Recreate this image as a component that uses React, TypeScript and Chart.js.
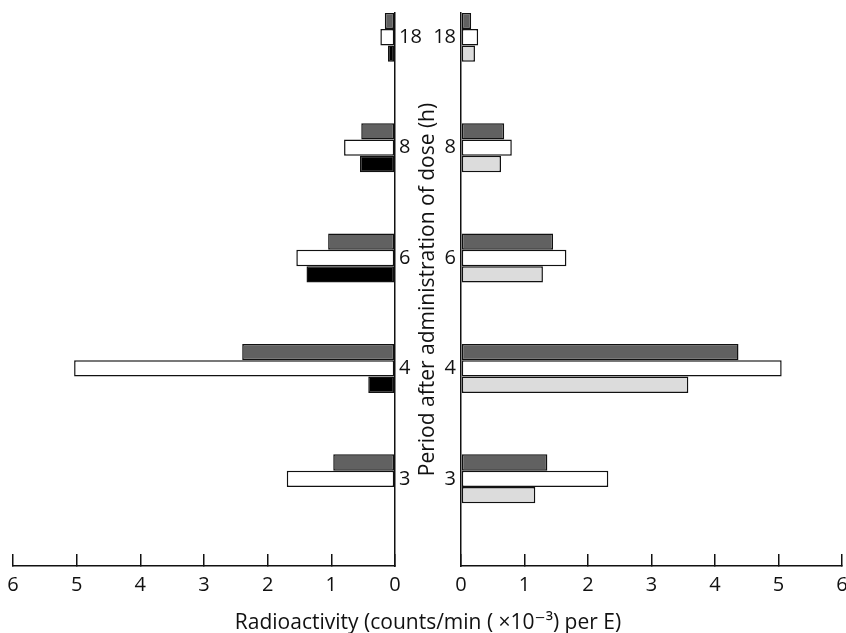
import React, { useEffect, useRef } from 'react';
import { Chart, registerables } from 'chart.js';

Chart.register(...registerables);

// ---- data ----
const periods = ['18', '8', '6', '4', '3'];
const xTickValues = [0, 1, 2, 3, 4, 5, 6];
// left panel
const leftDark = [0.16, 0.53, 1.05, 2.4, 0.97];
const leftWhite = [0.23, 0.8, 1.55, 5.04, 1.7];
const leftBlack: (number | null)[] = [0.11, 0.55, 1.39, 0.42, null];
// right panel
const rightDark = [0.16, 0.68, 1.45, 4.37, 1.36];
const rightWhite = [0.27, 0.8, 1.66, 5.05, 2.32];
const rightLight = [0.22, 0.63, 1.29, 3.58, 1.17];

const yTitle = 'Period after administration of dose (h)';
const xTitle = 'Radioactivity (counts/min ( \u00d710\u207b\u00b3) per E)';

const FONT = "'Open Sans', 'DejaVu Sans', sans-serif";
const INK = '#111111';
const DARK = '#616161';
const LIGHT = '#dcdcdc';

const W = 846;
const H = 633;
const LEFT_W = 440;
const RIGHT_X = 400;
const RIGHT_W = W - RIGHT_X;

const toPts = (arr: (number | null)[]) => arr.map((v, i) => ({ x: v, y: i }));

function dataset(label: string, values: (number | null)[], color: string) {
  return {
    label,
    data: toPts(values),
    backgroundColor: color,
    borderColor: INK,
    borderWidth: 1.5,
    borderSkipped: false,
    categoryPercentage: 0.444,
    barPercentage: 1,
  };
}

function buildConfig(side: 'left' | 'right'): any {
  const isLeft = side === 'left';
  const datasets = isLeft
    ? [dataset('A', leftDark, DARK), dataset('B', leftWhite, '#ffffff'), dataset('C', leftBlack, '#000000')]
    : [dataset('A', rightDark, DARK), dataset('B', rightWhite, '#ffffff'), dataset('C', rightLight, LIGHT)];
  return {
    type: 'bar',
    data: { datasets },
    options: {
      indexAxis: 'y',
      animation: false,
      responsive: false,
      maintainAspectRatio: false,
      layout: {
        padding: isLeft ? { left: 13, top: 13, right: 0, bottom: 0 } : { left: 0, top: 13, right: 4, bottom: 0 },
      },
      plugins: { legend: { display: false }, tooltip: { enabled: false }, title: { display: false } },
      scales: {
        x: {
          type: 'linear',
          min: 0,
          max: 6,
          reverse: isLeft,
          offset: false,
          afterBuildTicks: (s: any) => {
            s.ticks = xTickValues.map((v) => ({ value: v }));
          },
          ticks: { padding: 19, color: INK, font: { family: FONT, size: 20 } },
          grid: {
            display: true,
            drawOnChartArea: false,
            drawTicks: true,
            tickLength: -12,
            color: INK,
            lineWidth: 1.5,
          },
          border: { display: true, color: INK, width: 1.5 },
          afterFit: (s: any) => {
            s.height = 67;
            s.paddingLeft = 0;
            s.paddingRight = 0;
          },
        },
        y: {
          type: 'linear',
          position: isLeft ? 'right' : 'left',
          min: -0.22,
          max: 4.79,
          reverse: true,
          offset: false,
          afterBuildTicks: (s: any) => {
            s.ticks = periods.map((_, i) => ({ value: i }));
          },
          ticks: {
            padding: isLeft ? 4 : 5,
            color: INK,
            font: { family: FONT, size: 20 },
            callback: (v: any) => periods[v] ?? '',
          },
          grid: { display: false, drawTicks: false, offset: false },
          border: { display: true, color: INK, width: 1.5 },
          title: isLeft
            ? { display: false }
            : {
                display: true,
                text: yTitle,
                color: INK,
                font: { family: FONT, size: 21 },
                padding: { top: 15, bottom: 0 },
              },
          afterFit: (s: any) => {
            s.width = isLeft ? 45 : 61;
            s.paddingTop = 0;
            s.paddingBottom = 0;
          },
        },
      },
    },
  };
}

function Panel({ side, left, width }: { side: 'left' | 'right'; left: number; width: number }) {
  const ref = useRef<HTMLCanvasElement | null>(null);
  useEffect(() => {
    if (!ref.current) return;
    const chart = new Chart(ref.current, buildConfig(side));
    return () => chart.destroy();
  }, [side]);
  return (
    <canvas
      ref={ref}
      width={width}
      height={H}
      style={{ position: 'absolute', left, top: 0, width, height: H }}
    />
  );
}

export default function App() {
  return (
    <div style={{ position: 'absolute', left: 0, top: 0, width: W, height: H, background: '#ffffff', overflow: 'hidden' }}>
      <Panel side="left" left={0} width={LEFT_W} />
      <Panel side="right" left={RIGHT_X} width={RIGHT_W} />
      <div
        style={{
          position: 'absolute',
          left: 0,
          width: 856,
          top: 608,
          height: 26,
          lineHeight: '26px',
          textAlign: 'center',
          fontFamily: FONT,
          fontSize: 21,
          color: INK,
          whiteSpace: 'nowrap',
        }}
      >
        {xTitle}
      </div>
    </div>
  );
}
